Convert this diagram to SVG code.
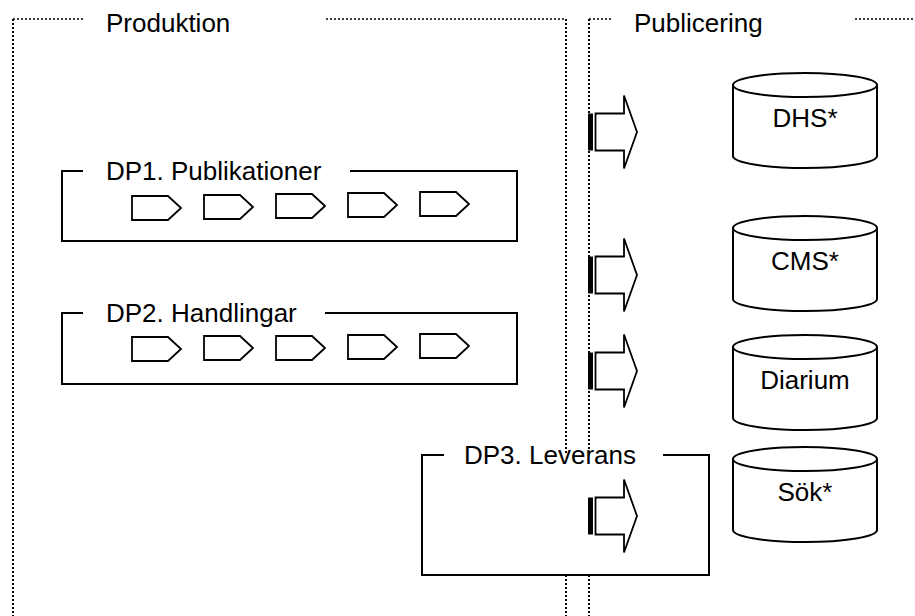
<svg xmlns="http://www.w3.org/2000/svg" width="915" height="616" viewBox="0 0 915 616">
<defs>
<style>
.dot{fill:none;stroke:#000;stroke-width:2;stroke-dasharray:2 2}
.dott{fill:none;stroke:#000;stroke-width:1.6;stroke-dasharray:2 2}
.box{fill:none;stroke:#000;stroke-width:2}
.boxw{fill:#fff;stroke:none}
.chev{fill:#fff;stroke:#000;stroke-width:1.8;stroke-linejoin:miter}
.cyl{fill:#fff;stroke:#000;stroke-width:2}
.arr{fill:#fff;stroke:#000;stroke-width:1.8;stroke-linejoin:miter}
.t{font-family:"Liberation Sans",Arial,sans-serif;font-size:26px;fill:#000}
</style>
<g id="chevron"><path class="chev" d="M0,0 H36 L49,12 L36,24 H0 Z"/></g>
<g id="arrow">
<path class="arr" d="M595.5,-18.5 H624 V-36.5 L637,0 L624,36.5 V18.5 H595.5 Z"/>
<rect x="588" y="-18.5" width="5" height="37" fill="#000"/>
</g>
</defs>
<rect width="915" height="616" fill="#fff"/>

<g id="frame-produktion">
<path class="dott" d="M13,19 H83 M326,19 H566"/>
<path class="dot" d="M13,19 V616 M566,19 V616"/>
<text class="t" x="106" y="32">Produktion</text>
</g>
<g id="frame-publicering">
<path class="dott" d="M589,19 H612 M855,19 H915"/>
<path class="dot" d="M589,19 V616"/>
<text class="t" x="634" y="32">Publicering</text>
</g>

<g id="dp1">
<path class="box" d="M83,171 H62 V241 H517 V171 H350"/>
<text class="t" x="106" y="180">DP1. Publikationer</text>
<use href="#chevron" x="132" y="196"/>
<use href="#chevron" x="204" y="195"/>
<use href="#chevron" x="276" y="194"/>
<use href="#chevron" x="348" y="193"/>
<use href="#chevron" x="420" y="192"/>
</g>
<g id="dp2">
<path class="box" d="M83,313 H62 V384 H517 V313 H325"/>
<text class="t" x="106" y="322">DP2. Handlingar</text>
<use href="#chevron" x="132" y="337"/>
<use href="#chevron" x="204" y="336"/>
<use href="#chevron" x="276" y="336"/>
<use href="#chevron" x="348" y="335"/>
<use href="#chevron" x="420" y="334"/>
</g>
<g id="dp3">
<rect class="boxw" x="422" y="455" width="287" height="120"/>
<path class="box" d="M444,455 H422 V575 H709 V455 H663"/>
<text class="t" x="464" y="464">DP3. Leverans</text>
</g>

<g id="connectors">
<use href="#arrow" y="132"/>
<use href="#arrow" y="275"/>
<use href="#arrow" y="371"/>
<use href="#arrow" y="516"/>
</g>

<g id="db-dhs">
<path class="cyl" d="M733,85 V156 A72,12 0 0 0 877,156 V85"/>
<ellipse class="cyl" cx="805" cy="85" rx="72" ry="12"/>
<text class="t" x="805" y="127" text-anchor="middle">DHS*</text>
</g>
<g id="db-cms">
<path class="cyl" d="M733,228 V299 A72,12 0 0 0 877,299 V228"/>
<ellipse class="cyl" cx="805" cy="228" rx="72" ry="12"/>
<text class="t" x="805" y="270" text-anchor="middle">CMS*</text>
</g>
<g id="db-diarium">
<path class="cyl" d="M733,347 V418 A72,12 0 0 0 877,418 V347"/>
<ellipse class="cyl" cx="805" cy="347" rx="72" ry="12"/>
<text class="t" x="805" y="389" text-anchor="middle">Diarium</text>
</g>
<g id="db-sok">
<path class="cyl" d="M733,459 V530 A72,12 0 0 0 877,530 V459"/>
<ellipse class="cyl" cx="805" cy="459" rx="72" ry="12"/>
<text class="t" x="805" y="501" text-anchor="middle">Sök*</text>
</g>
</svg>
